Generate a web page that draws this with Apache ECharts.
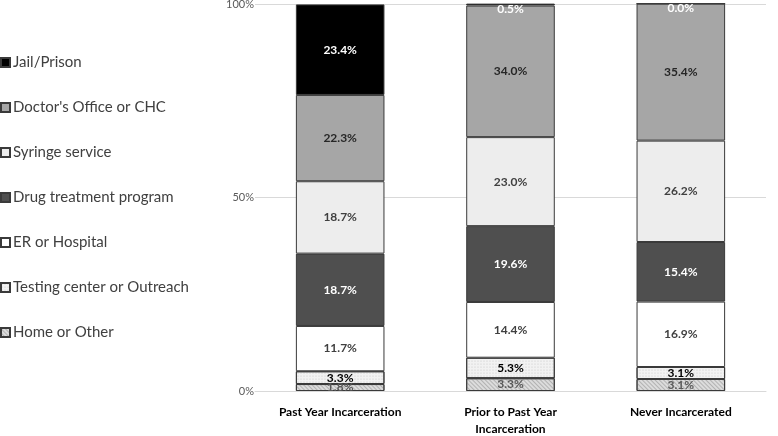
<!DOCTYPE html>
<html>
<head>
<meta charset="utf-8">
<script src="https://cdn.jsdelivr.net/npm/echarts@6/dist/echarts.min.js"></script>
<style>
  html, body { margin: 0; padding: 0; background: #fff; }
  #chart { width: 778px; height: 436px; }
</style>
</head>
<body>
<div id="chart"></div>
<script>
var categories = ['Past Year Incarceration', 'Prior to Past Year\nIncarceration', 'Never Incarcerated'];
var yTicks = ['0%', '50%', '100%'];

// percentages, bottom to top
var homeOther   = [1.8, 3.3, 3.1];
var testing     = [3.3, 5.3, 3.1];
var erHospital  = [11.7, 14.4, 16.9];
var drugTx      = [18.7, 19.6, 15.4];
var syringe     = [18.7, 23.0, 26.2];
var doctor      = [22.3, 34.0, 35.4];
var jail        = [23.4, 0.5, 0.0];

var myChart = echarts.init(document.getElementById('chart'));

var labelFont = 'Lato, "Open Sans", sans-serif';

function mkSeries(name, values, fill, labelColor, decal) {
    var data = values.map(function(v) {
        if (v < 1) {
            // tiny segment at the top: push label down a bit
            return { value: v, label: { offset: [0, 5] } };
        }
        return v;
    });
    var s = {
        name: name,
        type: 'bar',
        stack: 'total',
        barWidth: '52%',
        clip: false,
        data: data,
        itemStyle: {
            color: fill,
            borderColor: '#3a3a3a',
            borderWidth: 1
        },
        label: {
            show: true,
            position: 'inside',
            color: labelColor,
            fontFamily: labelFont,
            fontWeight: 'bold',
            fontSize: 12,
            formatter: function(p) { return Number(p.value).toFixed(1) + '%'; }
        }
    };
    if (decal) { s.itemStyle.decal = decal; }
    return s;
}

var option = {
    animation: false,
    backgroundColor: '#fff',
    legend: {
        orient: 'vertical',
        left: 0,
        top: 55,
        padding: 0,
        itemGap: 30,
        itemWidth: 9,
        itemHeight: 9,
        icon: 'rect',
        textStyle: {
            color: '#404040',
            fontSize: 15,
            fontFamily: labelFont,
            padding: [0, 0, 0, -2]
        },
        data: ['Jail/Prison', "Doctor's Office or CHC", 'Syringe service', 'Drug treatment program',
               'ER or Hospital', 'Testing center or Outreach', 'Home or Other']
    },
    grid: {
        left: 255,
        right: 12,
        top: 4,
        bottom: 45,
        outerBoundsMode: 'none'
    },
    xAxis: {
        type: 'category',
        data: categories,
        axisTick: { show: false },
        axisLine: { lineStyle: { color: '#d9d9d9' } },
        axisLabel: {
            color: '#000',
            fontWeight: 'bold',
            fontSize: 12,
            fontFamily: labelFont,
            margin: 13,
            lineHeight: 17
        }
    },
    yAxis: {
        type: 'value',
        min: 0,
        max: 100,
        interval: 50,
        axisLine: { show: false },
        axisTick: { show: false },
        splitLine: { lineStyle: { color: '#d9d9d9' } },
        axisLabel: {
            color: '#595959',
            fontSize: 11,
            fontFamily: labelFont,
            margin: 1,
            formatter: function(v) { return yTicks[v / 50]; }
        }
    },
    series: [
        mkSeries('Home or Other', homeOther, '#dcdcdc', '#595959', {
            symbol: 'rect', symbolSize: 1, dashArrayX: [1, 0], dashArrayY: [1, 2],
            rotation: Math.PI / 4, color: 'rgba(150,150,150,0.6)'
        }),
        mkSeries('Testing center or Outreach', testing, '#f2f2f2', '#000', {
            symbol: 'circle', symbolSize: 0.5, dashArrayX: [2, 1], dashArrayY: [2, 1],
            color: 'rgba(160,160,160,0.6)'
        }),
        mkSeries('ER or Hospital', erHospital, '#ffffff', '#404040'),
        mkSeries('Drug treatment program', drugTx, '#4f4f4f', '#ffffff'),
        mkSeries('Syringe service', syringe, '#ededed', '#404040'),
        mkSeries("Doctor's Office or CHC", doctor, '#a6a6a6', '#262626'),
        mkSeries('Jail/Prison', jail, '#000000', '#ffffff')
    ]
};
myChart.setOption(option);
</script>
</body>
</html>
